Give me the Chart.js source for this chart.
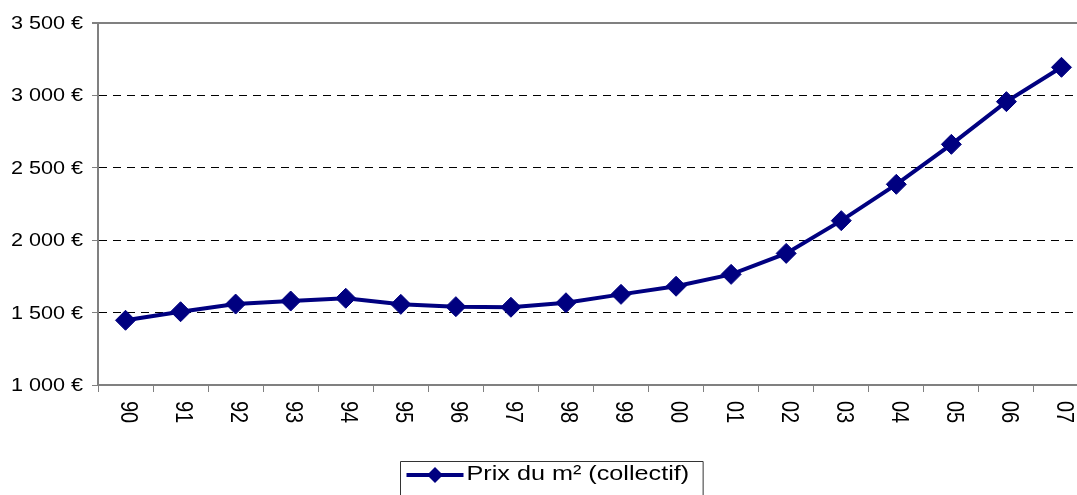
<!DOCTYPE html>
<html>
<head>
<meta charset="utf-8">
<script src="https://cdn.jsdelivr.net/npm/chart.js@4/dist/chart.umd.min.js"></script>
<style>
  body { margin: 0; background: #fff; }
  #wrap { width: 1077px; height: 495px; overflow: hidden; }
</style>
</head>
<body>
<div id="wrap"><canvas id="prixChart" width="1100" height="495"></canvas></div>
<script>
// ==========================
// Données : prix du m² (collectif), en euros
// ==========================
const annees = ["90", "91", "92", "93", "94", "95", "96", "97", "98", "99", "00", "01", "02", "03", "04", "05", "06", "07"];
const prixM2 = [1447, 1506, 1559, 1580, 1599, 1557, 1541, 1537, 1568, 1626, 1682, 1764, 1909, 2135, 2386, 2662, 2957, 3194];

// graduations de l'axe vertical
const yTicks = [1000, 1500, 2000, 2500, 3000, 3500];
const yTickLabels = ["1 000 €", "1 500 €", "2 000 €", "2 500 €", "3 000 €", "3 500 €"];

const serieNom = "Prix du m² (collectif)";

const navy = "#000080";
const gris = "#808080";
const police = "'Liberation Sans', Arial, sans-serif";
const etirement = 1.2; // texte un peu élargi comme sur l'original

// ==========================
// Textes (axes + légende) dessinés à la main
// ==========================
const textesPlugin = {
  id: "textes",
  afterDraw(chart) {
    const ctx = chart.ctx;
    const xs = chart.scales.x;
    const ys = chart.scales.y;

    ctx.save();
    ctx.fillStyle = "#000";

    // libellés axe Y
    ctx.font = "18px " + police;
    ctx.textAlign = "right";
    ctx.textBaseline = "middle";
    yTicks.forEach((v, i) => {
      ctx.save();
      ctx.translate(83, ys.getPixelForValue(v) + 1);
      ctx.scale(etirement, 1);
      ctx.fillText(yTickLabels[i], 0, 0);
      ctx.restore();
    });

    // libellés axe X (rotation 90° sens horaire)
    ctx.font = "20px " + police;
    ctx.textAlign = "left";
    annees.forEach((a, i) => {
      ctx.save();
      ctx.translate(xs.getPixelForValue(i) + 2, xs.top + 16);
      ctx.scale(etirement, 1);
      ctx.rotate(Math.PI / 2);
      ctx.fillText(a, 0, 0);
      ctx.restore();
    });

    // légende
    ctx.font = "21px " + police;
    const txtW = ctx.measureText(serieNom).width * etirement;
    const symW = 57;
    const boxW = 6 + symW + 3 + txtW + 14;
    const boxL = 400.5;
    const boxT = 461.5;
    ctx.strokeStyle = "#333";
    ctx.lineWidth = 1;
    ctx.beginPath();
    ctx.moveTo(boxL, 500);
    ctx.lineTo(boxL, boxT);
    ctx.lineTo(boxL + boxW, boxT);
    ctx.lineTo(boxL + boxW, 500);
    ctx.stroke();

    const ly = 475;
    const sx = boxL + 6;
    ctx.strokeStyle = navy;
    ctx.lineWidth = 4;
    ctx.beginPath();
    ctx.moveTo(sx, ly);
    ctx.lineTo(sx + symW, ly);
    ctx.stroke();
    const cx = sx + symW / 2;
    ctx.fillStyle = navy;
    ctx.beginPath();
    ctx.moveTo(cx - 8, ly);
    ctx.lineTo(cx, ly - 8);
    ctx.lineTo(cx + 8, ly);
    ctx.lineTo(cx, ly + 8);
    ctx.closePath();
    ctx.fill();

    ctx.fillStyle = "#000";
    ctx.textAlign = "left";
    ctx.textBaseline = "alphabetic";
    ctx.save();
    ctx.translate(sx + symW + 3, 480);
    ctx.scale(etirement, 1);
    ctx.fillText(serieNom, 0, 0);
    ctx.restore();

    ctx.restore();
  }
};

// ==========================
// Graph
// ==========================
new Chart(document.getElementById("prixChart"), {
  type: "line",
  data: {
    labels: annees,
    datasets: [{
      label: serieNom,
      data: prixM2,
      borderColor: navy,
      backgroundColor: navy,
      borderWidth: 4,
      pointStyle: "rectRot",
      pointRadius: 10,
      pointBackgroundColor: navy,
      pointBorderColor: navy,
      pointBorderWidth: 1,
      tension: 0
    }]
  },
  options: {
    responsive: false,
    animation: false,
    devicePixelRatio: 1,
    layout: { padding: { top: 23, right: 3, left: 0, bottom: 0 } },
    plugins: {
      legend: { display: false },
      tooltip: { enabled: false }
    },
    scales: {
      x: {
        offset: true,
        ticks: { display: false },
        grid: {
          offset: true,
          drawOnChartArea: false,
          tickLength: 7,
          tickColor: gris,
          color: gris
        },
        border: { color: gris, width: 2 },
        afterFit: (s) => { s.height = 110; }
      },
      y: {
        min: 1000,
        max: 3500,
        ticks: { display: false, stepSize: 500 },
        grid: {
          tickLength: 6,
          tickColor: gris,
          color: (c) => {
            if (!c.tick) return "#000";
            if (c.tick.value === 3500) return gris;
            if (c.tick.value === 1000) return "rgba(0,0,0,0)";
            return "#000";
          },
          lineWidth: (c) => (c.tick && c.tick.value === 3500 ? 2 : 1)
        },
        border: {
          color: gris,
          width: 2,
          dash: (c) => (c.tick && c.tick.value !== 3500 ? [8, 6] : [])
        },
        afterFit: (s) => { s.width = 98; }
      }
    }
  },
  plugins: [textesPlugin]
});
</script>
</body>
</html>
